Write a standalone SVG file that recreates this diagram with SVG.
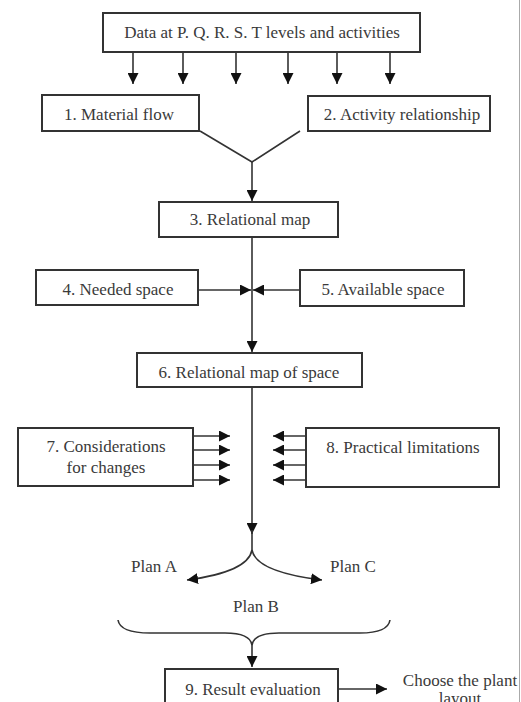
<svg xmlns="http://www.w3.org/2000/svg" width="521" height="702" viewBox="0 0 521 702">
<style>
.box{fill:#fff;stroke:#333;stroke-width:2}
.t{font-family:"Liberation Serif","Times New Roman",serif;font-size:17px;fill:#3a3a3a;text-anchor:middle}
.c{fill:none;stroke:#333;stroke-width:1.6}
</style>
<defs>
<marker id="ah" viewBox="0 0 10 10" refX="10" refY="5" markerWidth="11" markerHeight="11" markerUnits="userSpaceOnUse" orient="auto">
<path d="M0,0 L10,5 L0,10 z" fill="#111"/>
</marker>
</defs>
<rect width="521" height="702" fill="#fff"/>
<line x1="519.5" y1="0" x2="519.5" y2="702" stroke="#aaa" stroke-width="1"/>
<g id="connectors">
<line class="c" x1="133" y1="52" x2="133" y2="84" marker-end="url(#ah)"/>
<line class="c" x1="183" y1="52" x2="183" y2="84" marker-end="url(#ah)"/>
<line class="c" x1="236" y1="52" x2="236" y2="84" marker-end="url(#ah)"/>
<line class="c" x1="288" y1="52" x2="288" y2="84" marker-end="url(#ah)"/>
<line class="c" x1="337" y1="52" x2="337" y2="84" marker-end="url(#ah)"/>
<line class="c" x1="390" y1="52" x2="390" y2="84" marker-end="url(#ah)"/>
<polyline class="c" points="200,131 252,162 300,131"/>
<line class="c" x1="252" y1="162" x2="252" y2="201" marker-end="url(#ah)"/>
<line class="c" x1="252" y1="237" x2="252" y2="352" marker-end="url(#ah)"/>
<line class="c" x1="198" y1="290" x2="251" y2="290" marker-end="url(#ah)"/>
<line class="c" x1="300" y1="290" x2="253" y2="290" marker-end="url(#ah)"/>
<line class="c" x1="252" y1="387" x2="252" y2="534" marker-end="url(#ah)"/>
<line class="c" x1="193" y1="436" x2="230" y2="436" marker-end="url(#ah)"/>
<line class="c" x1="193" y1="450" x2="230" y2="450" marker-end="url(#ah)"/>
<line class="c" x1="193" y1="465" x2="230" y2="465" marker-end="url(#ah)"/>
<line class="c" x1="193" y1="480" x2="230" y2="480" marker-end="url(#ah)"/>
<line class="c" x1="306" y1="436" x2="273" y2="436" marker-end="url(#ah)"/>
<line class="c" x1="306" y1="450" x2="273" y2="450" marker-end="url(#ah)"/>
<line class="c" x1="306" y1="465" x2="273" y2="465" marker-end="url(#ah)"/>
<line class="c" x1="306" y1="480" x2="273" y2="480" marker-end="url(#ah)"/>
<line class="c" x1="252" y1="530" x2="252" y2="550"/>
<path class="c" d="M252,550 Q248,572 187,580" marker-end="url(#ah)"/>
<path class="c" d="M252,550 Q256,572 322,580" marker-end="url(#ah)"/>
<path class="c" d="M118,620 Q120,633 150,633 L225,633 Q250,633 252,645 Q254,633 279,633 L360,633 Q388,633 390,620"/>
<line class="c" x1="252" y1="645" x2="252" y2="667" marker-end="url(#ah)"/>
<line class="c" x1="338" y1="689" x2="387" y2="689" marker-end="url(#ah)"/>
</g>
<g id="n0"><rect class="box" x="103" y="13" width="317" height="39"/><text class="t" x="262" y="38">Data at P. Q. R. S. T levels and activities</text></g>
<g id="n1"><rect class="box" x="42" y="95" width="157" height="36"/><text class="t" x="119" y="120">1. Material flow</text></g>
<g id="n2"><rect class="box" x="308" y="96" width="182" height="35"/><text class="t" x="402" y="120">2. Activity relationship</text></g>
<g id="n3"><rect class="box" x="159" y="202" width="179" height="35"/><text class="t" x="250" y="225">3. Relational map</text></g>
<g id="n4"><rect class="box" x="36" y="270" width="162" height="35"/><text class="t" x="118" y="295">4. Needed space</text></g>
<g id="n5"><rect class="box" x="300" y="270" width="164" height="36"/><text class="t" x="383" y="295">5. Available space</text></g>
<g id="n6"><rect class="box" x="137" y="353" width="225" height="34"/><text class="t" x="249" y="378">6. Relational map of space</text></g>
<g id="n7"><rect class="box" x="18" y="428" width="175" height="58"/><text class="t" x="106" y="452">7. Considerations</text><text class="t" x="106" y="473">for changes</text></g>
<g id="n8"><rect class="box" x="306" y="428" width="193" height="59"/><text class="t" x="403" y="453">8. Practical limitations</text></g>
<g id="planA"><text class="t" x="154" y="572">Plan A</text></g>
<g id="planC"><text class="t" x="353" y="572">Plan C</text></g>
<g id="planB"><text class="t" x="256" y="612">Plan B</text></g>
<g id="n9"><rect class="box" x="165" y="669" width="173" height="40"/><text class="t" x="253" y="695">9. Result evaluation</text></g>
<g id="choose"><text class="t" x="460" y="686">Choose the plant</text><text class="t" x="460" y="704">layout</text></g>
</svg>
